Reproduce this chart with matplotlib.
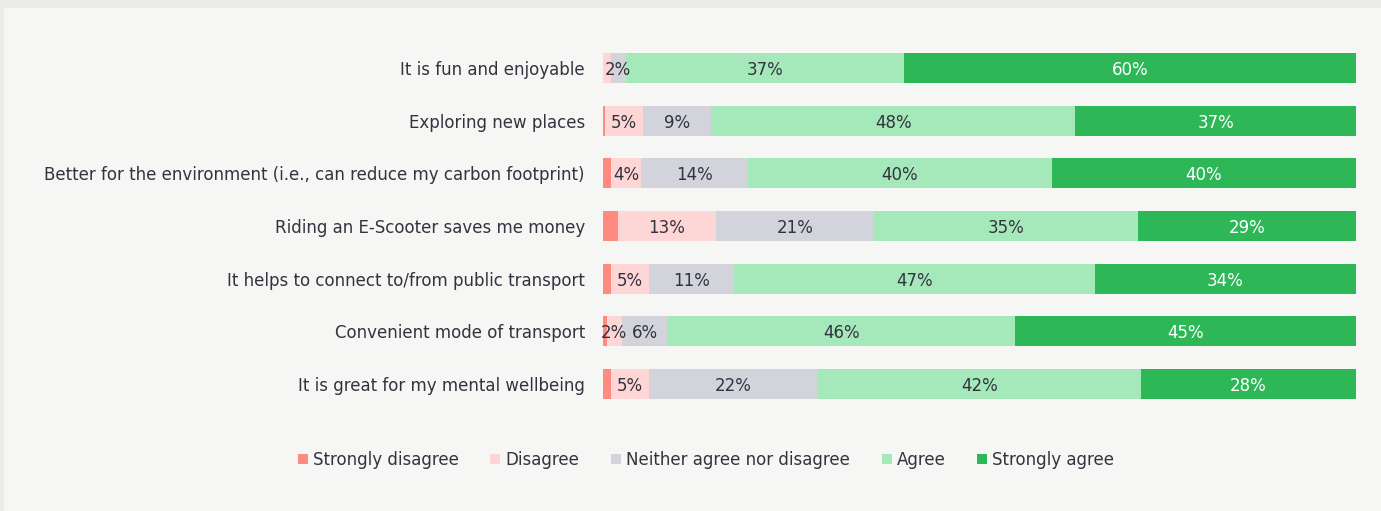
import matplotlib.pyplot as plt
import numpy as np

categories = [
    "It is fun and enjoyable",
    "Exploring new places",
    "Better for the environment (i.e., can reduce my carbon footprint)",
    "Riding an E-Scooter saves me money",
    "It helps to connect to/from public transport",
    "Convenient mode of transport",
    "It is great for my mental wellbeing",
]
series = ["Strongly disagree", "Disagree", "Neither agree nor disagree", "Agree", "Strongly agree"]

strongly_disagree = [0, 0.3, 1, 2, 1, 0.5, 1]
disagree = [1, 5, 4, 13, 5, 2, 5]
neither = [2, 9, 14, 21, 11, 6, 22]
agree = [37, 48, 40, 35, 47, 46, 42]
strongly_agree = [60, 37, 40, 29, 34, 45, 28]

colors = ["#ff8a80", "#ffd6d6", "#d3d3dc", "#a5e9bb", "#2db757"]
text_colors = ["#333340", "#333340", "#333340", "#333340", "#ffffff"]

plt.rcParams["font.family"] = ["DejaVu Sans"]

fig = plt.figure(figsize=(13.81, 5.11), dpi=100)
fig.patch.set_facecolor("#ebebe9")
# light panel behind the chart
fig.patches.append(plt.Rectangle((4 / 1381, 0), 1, 1 - 8 / 511, transform=fig.transFigure,
                                 facecolor="#f6f6f4", edgecolor="none", zorder=-10))

ax = fig.add_axes([603 / 1381, 1 - 410.4 / 511, 753 / 1381, (410.4 - 41.6) / 511])
ax.set_facecolor("none")

data = np.array([strongly_disagree, disagree, neither, agree, strongly_agree], dtype=float)
data = data / data.sum(axis=0) * 100
y = np.arange(len(categories))
left = np.zeros(len(categories))
for i, name in enumerate(series):
    ax.barh(y, data[i], left=left, height=0.57, color=colors[i], label=name)
    if i > 0:
        raw = [strongly_disagree, disagree, neither, agree, strongly_agree][i]
        for j in range(len(categories)):
            if raw[j] >= 2:
                ax.text(left[j] + data[i][j] / 2, y[j], f"{raw[j]:.0f}%", ha="center",
                        va="center_baseline", fontsize=12, color=text_colors[i])
    left += data[i]

ax.set_xlim(0, 100)
ax.set_ylim(len(categories) - 0.5, -0.5)
ax.set_yticks(y)
ax.set_yticklabels(categories, fontsize=12, color="#333340")
ax.tick_params(axis="y", length=0, pad=13)
ax.set_xticks([])
for s in ax.spines.values():
    s.set_visible(False)

fig.legend(loc="center", bbox_to_anchor=(706 / 1381, 1 - 460 / 511), ncol=5, frameon=False,
           fontsize=12, handlelength=0.6, handleheight=0.6, handletextpad=0.3, columnspacing=1.9,
           labelcolor="#333340")

fig.savefig("out.png", dpi=100, facecolor=fig.get_facecolor())
